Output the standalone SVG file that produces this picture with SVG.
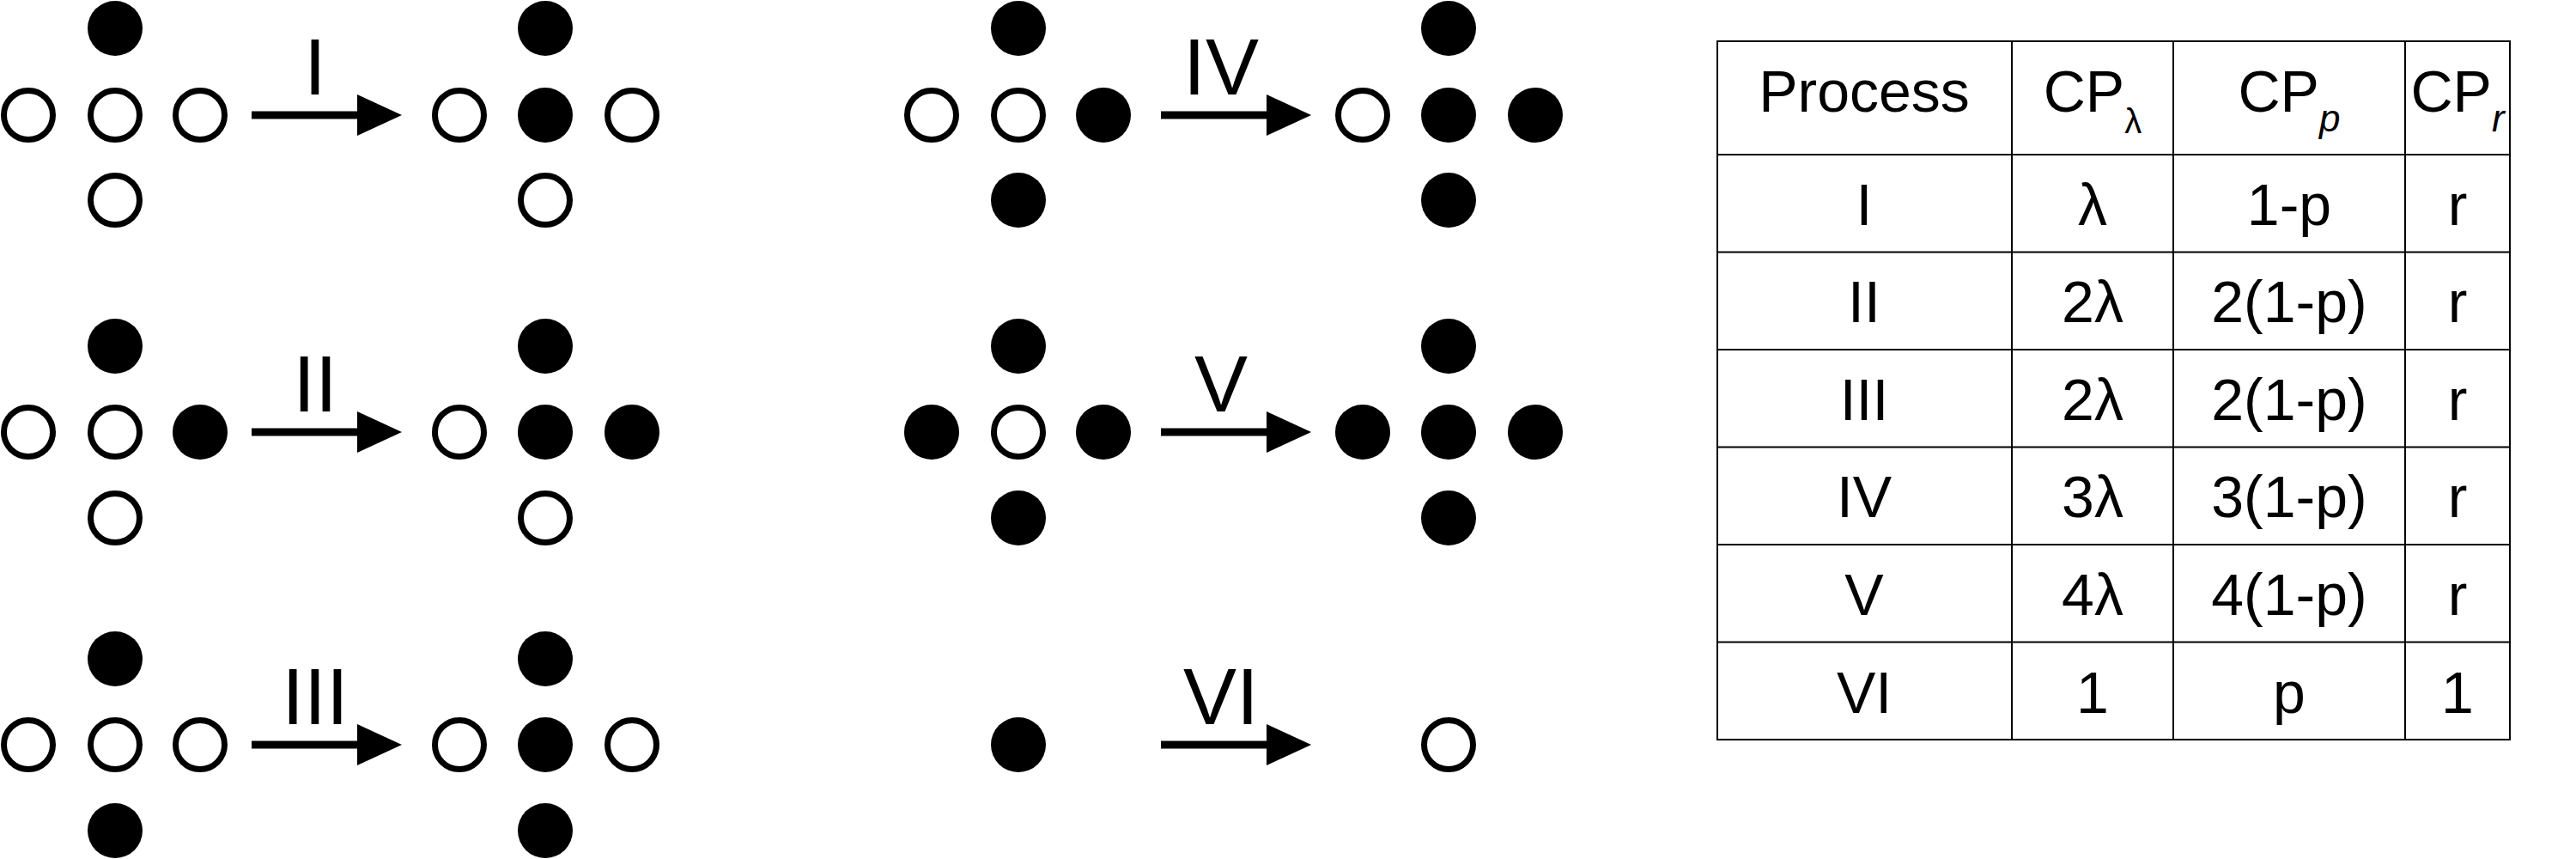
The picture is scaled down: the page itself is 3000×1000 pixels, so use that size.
<svg xmlns="http://www.w3.org/2000/svg" width="3000" height="1000" viewBox="0 0 3000 1000">
<style>
.o{fill:#fff;stroke:#000;stroke-width:7}
.f{fill:#000}
.sh{stroke:#000;stroke-width:9}
.lb{font-family:"Liberation Sans",Arial,sans-serif;font-size:93px;text-anchor:middle}
.t{font-family:"Liberation Sans",Arial,sans-serif;font-size:68px;text-anchor:middle}
.g{stroke:#000;stroke-width:2;fill:none}
</style>
<defs>
<polygon id="ah" points="0,-24 52,0 0,24" fill="#000"/>
</defs>
<rect width="3000" height="1000" fill="#fff"/>
<g id="n1">
<circle class="f" cx="134" cy="33" r="32"/><circle class="o" cx="33" cy="134" r="28.5"/><circle class="o" cx="134" cy="134" r="28.5"/><circle class="o" cx="233" cy="134" r="28.5"/><circle class="o" cx="134" cy="233" r="28.5"/>
<circle class="f" cx="635" cy="33" r="32"/><circle class="o" cx="535" cy="134" r="28.5"/><circle class="f" cx="635" cy="134" r="32"/><circle class="o" cx="736" cy="134" r="28.5"/><circle class="o" cx="635" cy="233" r="28.5"/>
</g>
<g id="n2">
<circle class="f" cx="134" cy="403" r="32"/><circle class="o" cx="33" cy="503" r="28.5"/><circle class="o" cx="134" cy="503" r="28.5"/><circle class="f" cx="233" cy="503" r="32"/><circle class="o" cx="134" cy="603" r="28.5"/>
<circle class="f" cx="635" cy="403" r="32"/><circle class="o" cx="535" cy="503" r="28.5"/><circle class="f" cx="635" cy="503" r="32"/><circle class="f" cx="736" cy="503" r="32"/><circle class="o" cx="635" cy="603" r="28.5"/>
</g>
<g id="n3">
<circle class="f" cx="134" cy="767" r="32"/><circle class="o" cx="33" cy="867" r="28.5"/><circle class="o" cx="134" cy="867" r="28.5"/><circle class="o" cx="233" cy="867" r="28.5"/><circle class="f" cx="134" cy="967" r="32"/>
<circle class="f" cx="635" cy="767" r="32"/><circle class="o" cx="535" cy="867" r="28.5"/><circle class="f" cx="635" cy="867" r="32"/><circle class="o" cx="736" cy="867" r="28.5"/><circle class="f" cx="635" cy="967" r="32"/>
</g>
<g id="n4">
<circle class="f" cx="1186" cy="33" r="32"/><circle class="o" cx="1085" cy="134" r="28.5"/><circle class="o" cx="1186" cy="134" r="28.5"/><circle class="f" cx="1285" cy="134" r="32"/><circle class="f" cx="1186" cy="233" r="32"/>
<circle class="f" cx="1687" cy="33" r="32"/><circle class="o" cx="1587" cy="134" r="28.5"/><circle class="f" cx="1687" cy="134" r="32"/><circle class="f" cx="1788" cy="134" r="32"/><circle class="f" cx="1687" cy="233" r="32"/>
</g>
<g id="n5">
<circle class="f" cx="1186" cy="403" r="32"/><circle class="f" cx="1085" cy="503" r="32"/><circle class="o" cx="1186" cy="503" r="28.5"/><circle class="f" cx="1285" cy="503" r="32"/><circle class="f" cx="1186" cy="603" r="32"/>
<circle class="f" cx="1687" cy="403" r="32"/><circle class="f" cx="1587" cy="503" r="32"/><circle class="f" cx="1687" cy="503" r="32"/><circle class="f" cx="1788" cy="503" r="32"/><circle class="f" cx="1687" cy="603" r="32"/>
</g>
<g id="n6">
<circle class="f" cx="1186" cy="867" r="32"/><circle class="o" cx="1687" cy="867" r="28.5"/>
</g>
<g id="connectors">
<line class="sh" x1="293" y1="134" x2="420" y2="134"/><use href="#ah" x="416" y="134"/>
<line class="sh" x1="293" y1="503" x2="420" y2="503"/><use href="#ah" x="416" y="503"/>
<line class="sh" x1="293" y1="867" x2="420" y2="867"/><use href="#ah" x="416" y="867"/>
<line class="sh" x1="1352" y1="134" x2="1479" y2="134"/><use href="#ah" x="1475" y="134"/>
<line class="sh" x1="1352" y1="503" x2="1479" y2="503"/><use href="#ah" x="1475" y="503"/>
<line class="sh" x1="1352" y1="867" x2="1479" y2="867"/><use href="#ah" x="1475" y="867"/>
<text class="lb" x="367" y="110">I</text>
<text class="lb" x="367" y="479">II</text>
<text class="lb" x="367" y="843">III</text>
<text class="lb" x="1422" y="110">IV</text>
<text class="lb" x="1422" y="479">V</text>
<text class="lb" x="1422" y="843">VI</text>
</g>
<g id="table">
<rect class="g" x="2000" y="48" width="923" height="813"/>
<line class="g" x1="2343" y1="48" x2="2343" y2="861"/>
<line class="g" x1="2531" y1="48" x2="2531" y2="861"/>
<line class="g" x1="2801" y1="48" x2="2801" y2="861"/>
<line class="g" x1="2000" y1="180" x2="2923" y2="180"/>
<line class="g" x1="2000" y1="293.5" x2="2923" y2="293.5"/>
<line class="g" x1="2000" y1="407" x2="2923" y2="407"/>
<line class="g" x1="2000" y1="520.5" x2="2923" y2="520.5"/>
<line class="g" x1="2000" y1="634" x2="2923" y2="634"/>
<line class="g" x1="2000" y1="747.5" x2="2923" y2="747.5"/>
<text class="t" x="2171" y="130">Process</text>
<text class="t" x="2437" y="130">CP<tspan font-size="40" dy="25">λ</tspan></text>
<text class="t" x="2666" y="130">CP<tspan font-size="44" font-style="italic" dy="23">p</tspan></text>
<text class="t" x="2862" y="130">CP<tspan font-size="44" font-style="italic" dy="23">r</tspan></text>
<text class="t" x="2171" y="262">I</text><text class="t" x="2437" y="262">λ</text><text class="t" x="2666" y="262">1-p</text><text class="t" x="2862" y="262">r</text>
<text class="t" x="2171" y="375">II</text><text class="t" x="2437" y="375">2λ</text><text class="t" x="2666" y="375">2(1-p)</text><text class="t" x="2862" y="375">r</text>
<text class="t" x="2171" y="489">III</text><text class="t" x="2437" y="489">2λ</text><text class="t" x="2666" y="489">2(1-p)</text><text class="t" x="2862" y="489">r</text>
<text class="t" x="2171" y="602">IV</text><text class="t" x="2437" y="602">3λ</text><text class="t" x="2666" y="602">3(1-p)</text><text class="t" x="2862" y="602">r</text>
<text class="t" x="2171" y="716">V</text><text class="t" x="2437" y="716">4λ</text><text class="t" x="2666" y="716">4(1-p)</text><text class="t" x="2862" y="716">r</text>
<text class="t" x="2171" y="830">VI</text><text class="t" x="2437" y="830">1</text><text class="t" x="2666" y="830">p</text><text class="t" x="2862" y="830">1</text>
</g>
</svg>
